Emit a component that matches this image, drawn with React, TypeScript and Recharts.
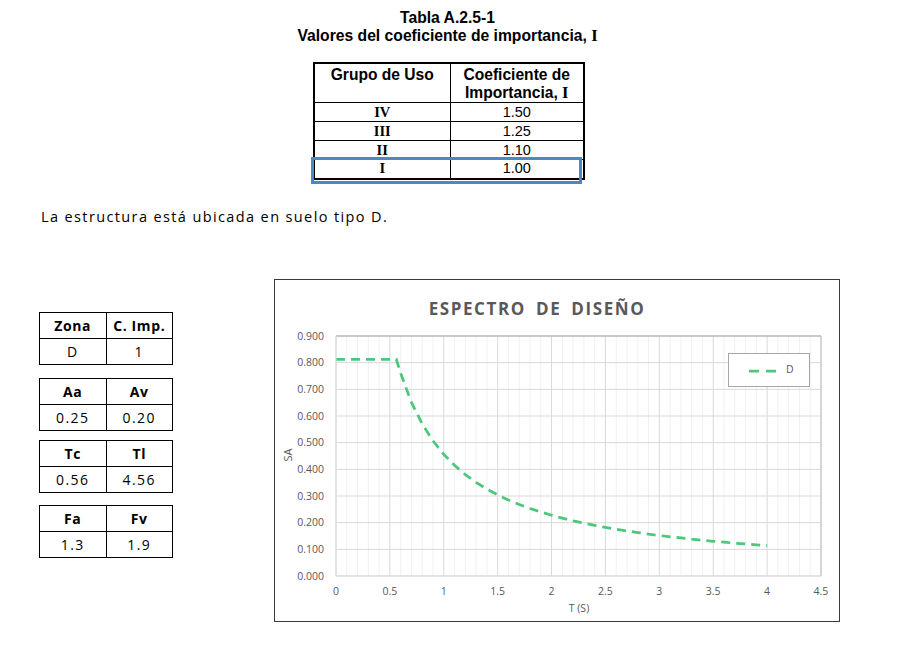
import React from 'react';
import { LineChart, Line, XAxis, YAxis, CartesianGrid, ReferenceLine } from 'recharts';

// ---- Data ----
const periods = [
  0, 0.1, 0.2, 0.3, 0.4, 0.5, 0.56, 0.6, 0.7, 0.8, 0.9, 1.0, 1.1, 1.2, 1.3, 1.4, 1.5,
  1.6, 1.7, 1.8, 1.9, 2.0, 2.1, 2.2, 2.3, 2.4, 2.5, 2.6, 2.7, 2.8, 2.9, 3.0, 3.1, 3.2,
  3.3, 3.4, 3.5, 3.6, 3.7, 3.8, 3.9, 4.0,
];
const saValues = [
  0.8125, 0.8125, 0.8125, 0.8125, 0.8125, 0.8125, 0.8125, 0.760, 0.651, 0.570, 0.507,
  0.456, 0.415, 0.380, 0.351, 0.326, 0.304, 0.285, 0.268, 0.253, 0.240, 0.228, 0.217,
  0.207, 0.198, 0.190, 0.182, 0.175, 0.169, 0.163, 0.157, 0.152, 0.147, 0.143, 0.138,
  0.134, 0.130, 0.127, 0.123, 0.120, 0.117, 0.114,
];
const xTicks = [0, 0.5, 1, 1.5, 2, 2.5, 3, 3.5, 4, 4.5];
const xMinor = [
  0.1, 0.2, 0.3, 0.4, 0.6, 0.7, 0.8, 0.9, 1.1, 1.2, 1.3, 1.4, 1.6, 1.7, 1.8, 1.9, 2.1, 2.2,
  2.3, 2.4, 2.6, 2.7, 2.8, 2.9, 3.1, 3.2, 3.3, 3.4, 3.6, 3.7, 3.8, 3.9, 4.1, 4.2, 4.3, 4.4,
];
const yTicks = [0, 0.1, 0.2, 0.3, 0.4, 0.5, 0.6, 0.7, 0.8, 0.9];
const seriesName = 'D';

const importanceGroups = ['IV', 'III', 'II', 'I'];
const importanceValues = ['1.50', '1.25', '1.10', '1.00'];

const paramTables: [string, string, string, string][] = [
  ['Zona', 'C. Imp.', 'D', '1'],
  ['Aa', 'Av', '0.25', '0.20'],
  ['Tc', 'Tl', '0.56', '4.56'],
  ['Fa', 'Fv', '1.3', '1.9'],
];
const paramTops = [312, 378, 440, 505];

const chartData = periods.map((t, i) => ({ t, sa: saValues[i] }));

const GREEN = '#4cc77c';
const GRAY_TEXT = '#595959';
const tickFont = { fontFamily: 'Open Sans', fontSize: 10.5, fill: GRAY_TEXT };

function ParamTable({ cells, top }: { cells: [string, string, string, string]; top: number }) {
  const cellStyle: React.CSSProperties = {
    border: '1px solid #000',
    height: 25,
    padding: 0,
    textAlign: 'center',
    verticalAlign: 'middle',
  };
  return (
    <table
      style={{
        position: 'absolute',
        left: 39,
        top,
        width: 134,
        borderCollapse: 'collapse',
        tableLayout: 'fixed',
        fontFamily: 'Open Sans',
        fontSize: 14,
        color: '#000',
      }}
    >
      <tbody>
        <tr>
          <td style={{ ...cellStyle, fontWeight: 700, letterSpacing: 0.6 }}>{cells[0]}</td>
          <td style={{ ...cellStyle, fontWeight: 700, letterSpacing: 0.6 }}>{cells[1]}</td>
        </tr>
        <tr>
          <td style={{ ...cellStyle, letterSpacing: 1.4 }}>{cells[2]}</td>
          <td style={{ ...cellStyle, letterSpacing: 1.4 }}>{cells[3]}</td>
        </tr>
      </tbody>
    </table>
  );
}

export default function App() {
  const arial = 'Liberation Sans';
  const times = 'Liberation Serif';
  const tCell: React.CSSProperties = {
    border: '1px solid #000',
    padding: 0,
    textAlign: 'center',
    lineHeight: '17px',
    fontSize: 14.5,
  };
  return (
    <div
      style={{
        position: 'absolute',
        left: 0,
        top: 0,
        width: 905,
        height: 662,
        background: '#fff',
        overflow: 'hidden',
      }}
    >
      {/* Heading */}
      <div
        style={{
          position: 'absolute',
          left: 0,
          width: 895,
          top: 9,
          textAlign: 'center',
          fontFamily: arial,
          fontWeight: 700,
          fontSize: 15.7,
          lineHeight: '18px',
          color: '#000',
        }}
      >
        <div>Tabla A.2.5-1</div>
        <div>
          Valores del coeficiente de importancia,{' '}
          <span style={{ fontFamily: times, fontSize: 16.5 }}>I</span>
        </div>
      </div>

      {/* Importance table */}
      <table
        style={{
          position: 'absolute',
          left: 313,
          top: 62,
          width: 270,
          borderCollapse: 'collapse',
          tableLayout: 'fixed',
          border: '2px solid #000',
          fontFamily: arial,
          color: '#000',
        }}
      >
        <colgroup>
          <col style={{ width: 136 }} />
          <col style={{ width: 134 }} />
        </colgroup>
        <tbody>
          <tr style={{ height: 39 }}>
            <td style={{ ...tCell, fontSize: 15.6, lineHeight: '18px', fontWeight: 700, verticalAlign: 'top', paddingTop: 2 }}>Grupo de Uso</td>
            <td style={{ ...tCell, fontSize: 15.6, lineHeight: '18px', fontWeight: 700, verticalAlign: 'top', paddingTop: 2 }}>
              Coeficiente de
              <br />
              Importancia, <span style={{ fontFamily: times, fontSize: 16.5 }}>I</span>
            </td>
          </tr>
          {importanceGroups.map((g, i) => (
            <tr key={g} style={{ height: 19 }}>
              <td style={{ ...tCell, fontFamily: times, fontWeight: 700 }}>{g}</td>
              <td style={tCell}>{importanceValues[i]}</td>
            </tr>
          ))}
        </tbody>
      </table>
      <div
        style={{
          position: 'absolute',
          left: 311,
          top: 157,
          width: 271,
          height: 27,
          border: '3px solid #4e86c6',
          boxSizing: 'border-box',
        }}
      />

      {/* Paragraph */}
      <div
        style={{
          position: 'absolute',
          left: 41,
          top: 207,
          fontFamily: 'Open Sans',
          fontSize: 14.5,
          letterSpacing: 1.38,
          lineHeight: '20px',
          color: '#000',
          whiteSpace: 'nowrap',
        }}
      >
        La estructura está ubicada en suelo tipo D.
      </div>

      {/* Parameter tables */}
      {paramTables.map((c, i) => (
        <ParamTable key={i} cells={c} top={paramTops[i]} />
      ))}

      {/* Chart frame */}
      <div
        style={{
          position: 'absolute',
          left: 274,
          top: 279,
          width: 566,
          height: 343,
          border: '1px solid #3a3a3a',
          boxSizing: 'border-box',
          background: '#fff',
        }}
      />
      <div style={{ position: 'absolute', left: 274, top: 279, width: 566, height: 343 }}>
        <LineChart
          width={566}
          height={343}
          data={chartData}
          margin={{ top: 57, right: 19, left: 12, bottom: 16 }}
        >
          <CartesianGrid
            stroke="#f0f0f0"
            horizontal={false}
            verticalValues={xMinor}
          />
          <CartesianGrid
            stroke="#d9d9d9"
            horizontalValues={yTicks}
            verticalValues={xTicks}
          />
          <XAxis
            dataKey="t"
            type="number"
            domain={[0, 4.5]}
            ticks={xTicks}
            interval={0}
            height={30}
            tick={tickFont}
            tickLine={false}
            tickSize={6}
            tickMargin={6}
            axisLine={{ stroke: '#d9d9d9' }}
          />
          <YAxis
            type="number"
            domain={[0, 0.9]}
            ticks={yTicks}
            interval={0}
            width={50}
            tick={tickFont}
            tickFormatter={(v: number) => v.toFixed(3)}
            tickLine={false}
            tickSize={6}
            tickMargin={6}
            axisLine={{ stroke: '#d9d9d9' }}
          />
          <ReferenceLine y={0.9} stroke="#a6a6a6" />
          <ReferenceLine x={4.5} stroke="#bfbfbf" />
          <Line
            type="linear"
            dataKey="sa"
            name={seriesName}
            stroke={GREEN}
            strokeWidth={2.75}
            strokeDasharray="9 6"
            dot={false}
            activeDot={false}
            isAnimationActive={false}
          />
        </LineChart>
      </div>

      {/* Chart title */}
      <div
        style={{
          position: 'absolute',
          left: 274,
          width: 526,
          top: 297,
          textAlign: 'center',
          fontFamily: 'Open Sans',
          fontWeight: 700,
          fontSize: 17,
          letterSpacing: 1.6,
          wordSpacing: 4,
          color: GRAY_TEXT,
          lineHeight: '24px',
        }}
      >
        ESPECTRO DE DISEÑO
      </div>

      {/* Axis titles */}
      <div
        style={{
          position: 'absolute',
          left: 287,
          top: 455,
          transform: 'translate(-50%, -50%) rotate(-90deg)',
          fontFamily: 'Open Sans',
          fontSize: 11,
          color: GRAY_TEXT,
          whiteSpace: 'nowrap',
        }}
      >
        SA
      </div>
      <div
        style={{
          position: 'absolute',
          left: 579,
          top: 608,
          transform: 'translate(-50%, -50%)',
          fontFamily: 'Open Sans',
          fontSize: 10.5,
          color: GRAY_TEXT,
          whiteSpace: 'nowrap',
        }}
      >
        T (S)
      </div>

      {/* Legend */}
      <div
        style={{
          position: 'absolute',
          left: 728,
          top: 353,
          width: 82,
          height: 34,
          border: '1px solid #a6a6a6',
          boxSizing: 'border-box',
          background: '#fff',
        }}
      >
        <svg width={30} height={6} style={{ position: 'absolute', left: 20, top: 14 }}>
          <line x1={0} y1={3} x2={30} y2={3} stroke={GREEN} strokeWidth={2.75} strokeDasharray="10 7" />
        </svg>
        <span
          style={{
            position: 'absolute',
            left: 57,
            top: 8,
            fontFamily: 'Open Sans',
            fontSize: 10.5,
            lineHeight: '14px',
            color: GRAY_TEXT,
          }}
        >
          {seriesName}
        </span>
      </div>
    </div>
  );
}
